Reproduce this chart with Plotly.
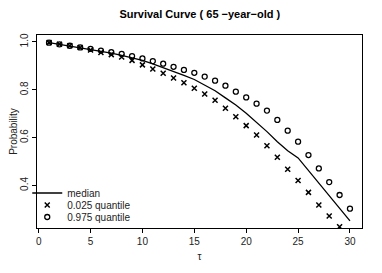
import plotly.graph_objects as go

tau = list(range(1, 31))
median = [0.997, 0.990, 0.984, 0.977, 0.969, 0.961, 0.953, 0.944, 0.934, 0.923,
          0.908, 0.893, 0.877, 0.860, 0.843, 0.820, 0.796, 0.766, 0.736, 0.702,
          0.665, 0.625, 0.583, 0.545, 0.515, 0.463, 0.410, 0.355, 0.303, 0.252]
q025 = [0.997, 0.990, 0.984, 0.977, 0.966, 0.956, 0.947, 0.937, 0.923, 0.904,
        0.887, 0.869, 0.849, 0.829, 0.806, 0.782, 0.756, 0.723, 0.687, 0.650,
        0.611, 0.566, 0.518, 0.468, 0.421, 0.371, 0.318, 0.272, 0.227, None]
q975 = [0.997, 0.990, 0.984, 0.977, 0.971, 0.964, 0.957, 0.950, 0.941, 0.931,
        0.920, 0.909, 0.896, 0.883, 0.871, 0.855, 0.838, 0.817, 0.792, 0.768,
        0.742, 0.713, 0.674, 0.629, 0.583, 0.527, 0.471, 0.414, 0.360, 0.303]
x_ticks = [0, 5, 10, 15, 20, 25, 30]
y_ticks = [0.4, 0.6, 0.8, 1.0]
y_tick_labels = ["0.4", "0.6", "0.8", "1.0"]

font = "Liberation Sans, Arial, Helvetica, sans-serif"

fig = go.Figure()
fig.add_trace(go.Scatter(x=tau, y=median, mode="lines", name="median",
                         line=dict(color="black", width=1.3), legend="legend"))
fig.add_trace(go.Scatter(x=tau, y=q025, mode="markers", name="0.025 quantile",
                         marker=dict(symbol="x-thin-open", size=5, color="black",
                                     line=dict(width=1.5, color="black")),
                         legend="legend2"))
fig.add_trace(go.Scatter(x=tau, y=q975, mode="markers", name="0.975 quantile",
                         marker=dict(symbol="circle-open", size=5, color="black",
                                     line=dict(width=1.3, color="black")),
                         legend="legend3"))

# page body has an 8px margin, so the figure is sized to fill the remaining window
leg_common = dict(x=-0.03, xanchor="left", yanchor="middle",
                  bgcolor="rgba(0,0,0,0)", font=dict(size=10, color="#222"),
                  itemwidth=30, borderwidth=0)
fig.update_layout(
    width=374, height=265,
    margin=dict(l=29, r=20, t=27, b=45, autoexpand=False),
    paper_bgcolor="white", plot_bgcolor="white",
    font=dict(family=font, size=10, color="#222"),
    title=dict(text="<b>Survival Curve ( 65 −year−old )</b>", x=0.513, xanchor="center",
               y=0.975, yanchor="middle", font=dict(size=11, color="black")),
    showlegend=True,
    legend=dict(y=(228 - 193) / 193, **leg_common),
    legend2=dict(y=(228 - 205) / 193, **leg_common),
    legend3=dict(y=(228 - 217) / 193, **leg_common),
)
fig.update_xaxes(range=[-0.16, 31.16], tickvals=x_ticks, ticks="outside", ticklen=4,
                 showgrid=False, zeroline=False, showline=True, linecolor="black",
                 linewidth=1, mirror=True, tickcolor="black", automargin=False,
                 title=dict(text="τ", standoff=6, font=dict(size=10)))
fig.update_yaxes(range=[0.222, 1.029], tickvals=y_ticks, ticktext=y_tick_labels,
                 ticks="outside", ticklen=4, tickangle=-90, automargin=False,
                 showgrid=False, zeroline=False, showline=True, linecolor="black",
                 linewidth=1, mirror=True, tickcolor="black",
                 title=dict(text="Probability", standoff=2, font=dict(size=10)))

fig.write_html("out.html")
